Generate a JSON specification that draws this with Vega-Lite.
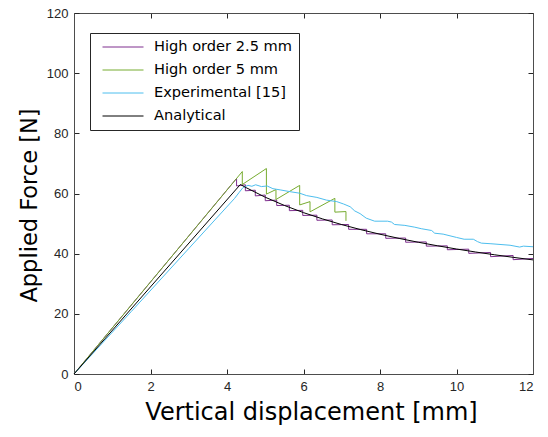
{
  "$schema": "https://vega.github.io/schema/vega-lite/v6.json",
  "width": 459,
  "height": 361,
  "autosize": {"type": "none"},
  "padding": {"left": 74, "top": 13, "right": 15, "bottom": 63},
  "background": "white",
  "config": {
    "view": {"stroke": null},
    "axis": {
      "grid": false,
      "domainColor": "#4d4d4d",
      "domainWidth": 1,
      "tickColor": "#262626",
      "tickSize": -5,
      "labelFont": "Liberation Sans",
      "labelFontSize": 13,
      "labelColor": "#262626",
      "titleFont": "DejaVu Sans",
      "titleFontSize": 24,
      "titleFontWeight": "normal",
      "titleColor": "#000000"
    }
  },
  "data": {
    "values": [
      {"s": "High order 2.5 mm", "x": 0, "y": 0},
      {"s": "High order 2.5 mm", "x": 4.25, "y": 65.0},
      {"s": "High order 2.5 mm", "x": 4.25, "y": 62.5},
      {"s": "High order 2.5 mm", "x": 4.48, "y": 62.9},
      {"s": "High order 2.5 mm", "x": 4.48, "y": 60.9},
      {"s": "High order 2.5 mm", "x": 4.74, "y": 61.1},
      {"s": "High order 2.5 mm", "x": 4.74, "y": 59.2},
      {"s": "High order 2.5 mm", "x": 5.0, "y": 59.5},
      {"s": "High order 2.5 mm", "x": 5.0, "y": 57.6},
      {"s": "High order 2.5 mm", "x": 5.3, "y": 57.8},
      {"s": "High order 2.5 mm", "x": 5.3, "y": 56.0},
      {"s": "High order 2.5 mm", "x": 5.63, "y": 56.1},
      {"s": "High order 2.5 mm", "x": 5.63, "y": 54.3},
      {"s": "High order 2.5 mm", "x": 5.98, "y": 54.4},
      {"s": "High order 2.5 mm", "x": 5.98, "y": 52.7},
      {"s": "High order 2.5 mm", "x": 6.35, "y": 52.8},
      {"s": "High order 2.5 mm", "x": 6.35, "y": 51.1},
      {"s": "High order 2.5 mm", "x": 6.75, "y": 51.2},
      {"s": "High order 2.5 mm", "x": 6.75, "y": 49.6},
      {"s": "High order 2.5 mm", "x": 7.18, "y": 49.7},
      {"s": "High order 2.5 mm", "x": 7.18, "y": 48.1},
      {"s": "High order 2.5 mm", "x": 7.65, "y": 48.1},
      {"s": "High order 2.5 mm", "x": 7.65, "y": 46.6},
      {"s": "High order 2.5 mm", "x": 8.15, "y": 46.6},
      {"s": "High order 2.5 mm", "x": 8.15, "y": 45.1},
      {"s": "High order 2.5 mm", "x": 8.67, "y": 45.2},
      {"s": "High order 2.5 mm", "x": 8.67, "y": 43.8},
      {"s": "High order 2.5 mm", "x": 9.21, "y": 43.9},
      {"s": "High order 2.5 mm", "x": 9.21, "y": 42.5},
      {"s": "High order 2.5 mm", "x": 9.76, "y": 42.6},
      {"s": "High order 2.5 mm", "x": 9.76, "y": 41.3},
      {"s": "High order 2.5 mm", "x": 10.32, "y": 41.5},
      {"s": "High order 2.5 mm", "x": 10.32, "y": 40.1},
      {"s": "High order 2.5 mm", "x": 10.89, "y": 40.4},
      {"s": "High order 2.5 mm", "x": 10.89, "y": 39.0},
      {"s": "High order 2.5 mm", "x": 11.48, "y": 39.4},
      {"s": "High order 2.5 mm", "x": 11.48, "y": 38.0},
      {"s": "High order 2.5 mm", "x": 12.0, "y": 38.4},

      {"s": "High order 5 mm", "x": 0, "y": 0},
      {"s": "High order 5 mm", "x": 4.4, "y": 67.3},
      {"s": "High order 5 mm", "x": 4.4, "y": 63.0},
      {"s": "High order 5 mm", "x": 5.03, "y": 68.3},
      {"s": "High order 5 mm", "x": 5.03, "y": 59.8},
      {"s": "High order 5 mm", "x": 5.28, "y": 61.3},
      {"s": "High order 5 mm", "x": 5.28, "y": 58.0},
      {"s": "High order 5 mm", "x": 5.9, "y": 62.7},
      {"s": "High order 5 mm", "x": 5.9, "y": 56.2},
      {"s": "High order 5 mm", "x": 6.17, "y": 57.3},
      {"s": "High order 5 mm", "x": 6.17, "y": 53.9},
      {"s": "High order 5 mm", "x": 6.82, "y": 58.4},
      {"s": "High order 5 mm", "x": 6.82, "y": 53.8},
      {"s": "High order 5 mm", "x": 7.11, "y": 54.0},
      {"s": "High order 5 mm", "x": 7.11, "y": 50.9},

      {"s": "Experimental [15]", "x": 0, "y": 0},
      {"s": "Experimental [15]", "x": 1.5, "y": 20.8},
      {"s": "Experimental [15]", "x": 3.0, "y": 41.7},
      {"s": "Experimental [15]", "x": 4.2, "y": 58.4},
      {"s": "Experimental [15]", "x": 4.32, "y": 60.4},
      {"s": "Experimental [15]", "x": 4.42, "y": 62.0},
      {"s": "Experimental [15]", "x": 4.55, "y": 62.7},
      {"s": "Experimental [15]", "x": 4.65, "y": 62.4},
      {"s": "Experimental [15]", "x": 4.75, "y": 62.9},
      {"s": "Experimental [15]", "x": 4.9, "y": 62.3},
      {"s": "Experimental [15]", "x": 5.05, "y": 62.5},
      {"s": "Experimental [15]", "x": 5.2, "y": 61.6},
      {"s": "Experimental [15]", "x": 5.39, "y": 61.2},
      {"s": "Experimental [15]", "x": 5.65, "y": 60.6},
      {"s": "Experimental [15]", "x": 5.9, "y": 60.1},
      {"s": "Experimental [15]", "x": 6.08, "y": 59.3},
      {"s": "Experimental [15]", "x": 6.35, "y": 58.7},
      {"s": "Experimental [15]", "x": 6.6, "y": 57.8},
      {"s": "Experimental [15]", "x": 6.87, "y": 57.3},
      {"s": "Experimental [15]", "x": 7.05, "y": 56.5},
      {"s": "Experimental [15]", "x": 7.22, "y": 55.6},
      {"s": "Experimental [15]", "x": 7.34, "y": 54.2},
      {"s": "Experimental [15]", "x": 7.48, "y": 53.3},
      {"s": "Experimental [15]", "x": 7.64, "y": 51.8},
      {"s": "Experimental [15]", "x": 7.86, "y": 50.8},
      {"s": "Experimental [15]", "x": 8.2, "y": 50.8},
      {"s": "Experimental [15]", "x": 8.3, "y": 50.5},
      {"s": "Experimental [15]", "x": 8.38, "y": 49.7},
      {"s": "Experimental [15]", "x": 8.65, "y": 49.4},
      {"s": "Experimental [15]", "x": 8.91, "y": 48.8},
      {"s": "Experimental [15]", "x": 9.08, "y": 48.3},
      {"s": "Experimental [15]", "x": 9.35, "y": 47.7},
      {"s": "Experimental [15]", "x": 9.43, "y": 46.8},
      {"s": "Experimental [15]", "x": 9.65, "y": 46.5},
      {"s": "Experimental [15]", "x": 10.0, "y": 45.4},
      {"s": "Experimental [15]", "x": 10.2, "y": 44.8},
      {"s": "Experimental [15]", "x": 10.44, "y": 44.8},
      {"s": "Experimental [15]", "x": 10.55, "y": 44.0},
      {"s": "Experimental [15]", "x": 10.65, "y": 43.5},
      {"s": "Experimental [15]", "x": 10.9, "y": 43.3},
      {"s": "Experimental [15]", "x": 11.4, "y": 42.8},
      {"s": "Experimental [15]", "x": 11.65, "y": 42.2},
      {"s": "Experimental [15]", "x": 11.75, "y": 42.5},
      {"s": "Experimental [15]", "x": 12.0, "y": 42.3},

      {"s": "Analytical", "x": 0, "y": 0},
      {"s": "Analytical", "x": 4.35, "y": 63.0},
      {"s": "Analytical", "x": 4.5, "y": 61.94},
      {"s": "Analytical", "x": 5.0, "y": 58.76},
      {"s": "Analytical", "x": 5.5, "y": 56.03},
      {"s": "Analytical", "x": 6.0, "y": 53.64},
      {"s": "Analytical", "x": 6.5, "y": 51.54},
      {"s": "Analytical", "x": 7.0, "y": 49.66},
      {"s": "Analytical", "x": 7.5, "y": 47.98},
      {"s": "Analytical", "x": 8.0, "y": 46.46},
      {"s": "Analytical", "x": 8.5, "y": 45.07},
      {"s": "Analytical", "x": 9.0, "y": 43.8},
      {"s": "Analytical", "x": 9.5, "y": 42.63},
      {"s": "Analytical", "x": 10.0, "y": 41.55},
      {"s": "Analytical", "x": 10.5, "y": 40.55},
      {"s": "Analytical", "x": 11.0, "y": 39.62},
      {"s": "Analytical", "x": 11.5, "y": 38.75},
      {"s": "Analytical", "x": 12.0, "y": 37.93}
    ]
  },
  "encoding": {
    "color": {
      "field": "s",
      "type": "nominal",
      "scale": {
        "domain": ["High order 2.5 mm", "High order 5 mm", "Experimental [15]", "Analytical"],
        "range": ["#7E2F8E", "#77AC30", "#4DBEEE", "#000000"]
      },
      "legend": {
        "orient": "none",
        "legendX": 16,
        "legendY": 20,
        "title": null,
        "symbolType": "stroke",
        "symbolSize": 1681,
        "symbolStrokeWidth": 1,
        "clipHeight": 16,
        "rowPadding": 7,
        "padding": 6,
        "symbolOffset": 6,
        "labelOffset": 10,
        "labelFont": "DejaVu Sans",
        "labelFontSize": 14.6,
        "labelColor": "#000000",
        "strokeColor": "#262626",
        "fillColor": "white"
      }
    },
    "order": {"value": null}
  },
  "layer": [
    {
      "transform": [{"filter": "datum.s === 'High order 2.5 mm'"}],
      "mark": {"type": "line", "strokeWidth": 1},
      "encoding": {
        "x": {"field": "x", "type": "quantitative", "scale": {"domain": [0, 12], "nice": false},
          "axis": {"orient": "bottom", "values": [0, 2, 4, 6, 8, 10, 12], "title": "Vertical displacement [mm]", "labelPadding": 11, "titlePadding": 7, "titleX": 237}},
        "y": {"field": "y", "type": "quantitative", "scale": {"domain": [0, 120], "nice": false},
          "axis": {"orient": "left", "values": [0, 20, 40, 60, 80, 100, 120], "title": "Applied Force [N]", "titleFontSize": 22.5, "labelPadding": 11, "titlePadding": 5, "titleY": 192}}
      }
    },
    {
      "transform": [{"filter": "datum.s === 'High order 5 mm'"}],
      "mark": {"type": "line", "strokeWidth": 1},
      "encoding": {
        "x": {"field": "x", "type": "quantitative", "scale": {"domain": [0, 12], "nice": false},
          "axis": {"orient": "top", "values": [0, 2, 4, 6, 8, 10, 12], "labels": false, "title": null}},
        "y": {"field": "y", "type": "quantitative", "scale": {"domain": [0, 120], "nice": false},
          "axis": {"orient": "right", "values": [0, 20, 40, 60, 80, 100, 120], "labels": false, "title": null}}
      }
    },
    {
      "transform": [{"filter": "datum.s === 'Experimental [15]'"}],
      "mark": {"type": "line", "strokeWidth": 1},
      "encoding": {
        "x": {"field": "x", "type": "quantitative", "scale": {"domain": [0, 12], "nice": false}, "axis": null},
        "y": {"field": "y", "type": "quantitative", "scale": {"domain": [0, 120], "nice": false}, "axis": null}
      }
    },
    {
      "transform": [{"filter": "datum.s === 'Analytical'"}],
      "mark": {"type": "line", "strokeWidth": 1},
      "encoding": {
        "x": {"field": "x", "type": "quantitative", "scale": {"domain": [0, 12], "nice": false}, "axis": null},
        "y": {"field": "y", "type": "quantitative", "scale": {"domain": [0, 120], "nice": false}, "axis": null}
      }
    }
  ],
  "resolve": {"axis": {"x": "independent", "y": "independent"}}
}
